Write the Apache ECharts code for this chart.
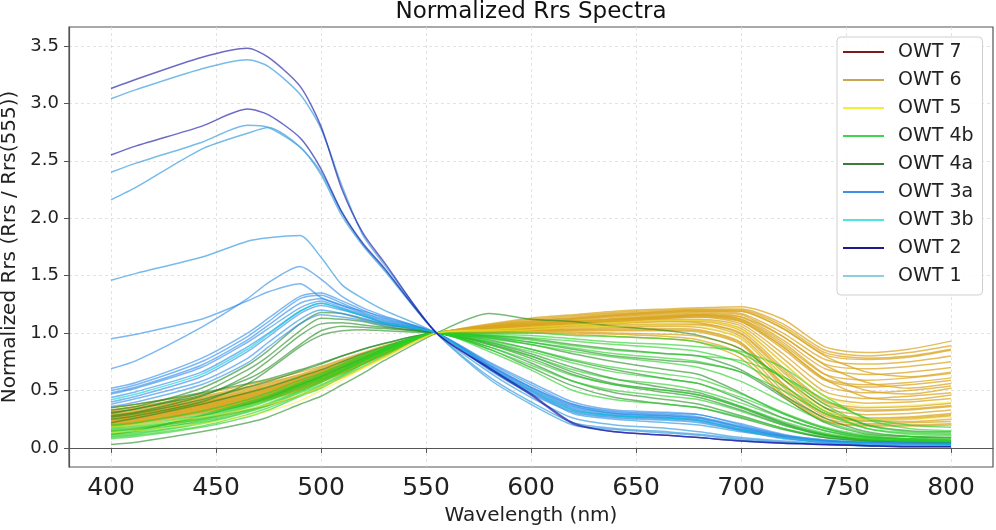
<!DOCTYPE html>
<html>
<head>
<meta charset="utf-8">
<script src="https://cdn.jsdelivr.net/npm/echarts@6/dist/echarts.min.js"></script>
<style>
  html, body { margin: 0; padding: 0; background: #fff; }
  #main { width: 996px; height: 530px; }
</style>
</head>
<body>
<div id="main"></div>
<script>
// wavelengths (nm) shared by every spectrum
var wl = [400, 412, 443, 465, 475, 490, 500, 510, 520, 530, 555, 580, 600, 620, 640, 665, 680, 700, 720, 740, 760, 780, 800];

var xTicks = [400, 450, 500, 550, 600, 650, 700, 750, 800];
var yTicks = [0, 0.5, 1, 1.5, 2, 2.5, 3, 3.5];

var legendNames = ['OWT 7', 'OWT 6', 'OWT 5', 'OWT 4b', 'OWT 4a', 'OWT 3a', 'OWT 3b', 'OWT 2', 'OWT 1'];
var legendColors = ['#7b1c1c', '#c9a650', '#f2ee3a', '#3fd34f', '#3d7a3d', '#3f8de8', '#4fe3e3', '#1a1a8a', '#8ccfdc'];

var owt7 = [];

var owt6 = [
    [0.35,0.38,0.47,0.55,0.59,0.66,0.71,0.77,0.83,0.89,1.0,1.08,1.13,1.16,1.19,1.21,1.22,1.23,1.12,0.88,0.83,0.86,0.93],
    [0.33,0.36,0.45,0.53,0.57,0.64,0.70,0.76,0.82,0.88,1.0,1.07,1.12,1.15,1.18,1.20,1.21,1.21,1.08,0.85,0.80,0.83,0.89],
    [0.31,0.34,0.43,0.51,0.55,0.62,0.68,0.74,0.80,0.87,1.0,1.07,1.11,1.14,1.17,1.19,1.20,1.19,1.04,0.81,0.77,0.79,0.85],
    [0.30,0.33,0.42,0.50,0.54,0.61,0.67,0.73,0.80,0.86,1.0,1.06,1.10,1.13,1.16,1.18,1.19,1.17,1.00,0.77,0.73,0.75,0.80],
    [0.28,0.31,0.40,0.48,0.52,0.60,0.66,0.72,0.79,0.86,1.0,1.06,1.09,1.12,1.15,1.17,1.18,1.16,0.97,0.73,0.69,0.71,0.75],
    [0.27,0.30,0.39,0.47,0.51,0.59,0.65,0.72,0.78,0.85,1.0,1.05,1.08,1.11,1.14,1.16,1.17,1.14,0.94,0.69,0.64,0.66,0.70],
    [0.26,0.29,0.38,0.46,0.50,0.58,0.64,0.71,0.78,0.85,1.0,1.05,1.08,1.10,1.13,1.15,1.16,1.12,0.90,0.64,0.59,0.61,0.65],
    [0.25,0.28,0.37,0.45,0.49,0.57,0.63,0.70,0.77,0.84,1.0,1.04,1.07,1.09,1.12,1.14,1.15,1.10,0.86,0.59,0.53,0.55,0.59],
    [0.24,0.27,0.36,0.44,0.48,0.56,0.62,0.69,0.76,0.84,1.0,1.04,1.06,1.08,1.11,1.13,1.14,1.08,0.82,0.54,0.48,0.50,0.54],
    [0.23,0.26,0.35,0.43,0.47,0.55,0.61,0.68,0.76,0.83,1.0,1.03,1.06,1.08,1.10,1.12,1.12,1.06,0.78,0.49,0.43,0.45,0.48],
    [0.22,0.25,0.34,0.42,0.46,0.54,0.60,0.68,0.75,0.83,1.0,1.03,1.05,1.07,1.09,1.11,1.11,1.04,0.74,0.45,0.39,0.40,0.43],
    [0.21,0.24,0.33,0.41,0.45,0.53,0.60,0.67,0.75,0.82,1.0,1.03,1.05,1.06,1.08,1.10,1.10,1.02,0.70,0.41,0.35,0.36,0.39],
    [0.20,0.23,0.32,0.40,0.44,0.52,0.59,0.66,0.74,0.82,1.0,1.02,1.04,1.05,1.07,1.08,1.08,0.99,0.66,0.38,0.32,0.33,0.36],
    [0.19,0.22,0.31,0.39,0.43,0.51,0.58,0.66,0.74,0.81,1.0,1.02,1.04,1.05,1.06,1.07,1.07,0.97,0.63,0.35,0.29,0.30,0.33],
    [0.18,0.21,0.30,0.38,0.42,0.50,0.57,0.65,0.73,0.81,1.0,1.02,1.03,1.04,1.05,1.06,1.05,0.95,0.60,0.32,0.26,0.27,0.30],
    [0.22,0.25,0.34,0.42,0.46,0.54,0.60,0.67,0.75,0.82,1.0,1.01,1.03,1.03,1.04,1.04,1.03,0.92,0.56,0.30,0.24,0.25,0.28],
    [0.20,0.23,0.32,0.40,0.44,0.52,0.59,0.66,0.74,0.82,1.0,1.01,1.02,1.02,1.02,1.02,1.01,0.90,0.53,0.28,0.23,0.23,0.25],
    [0.24,0.27,0.36,0.44,0.48,0.56,0.62,0.69,0.76,0.84,1.0,1.01,1.02,1.01,1.00,0.99,0.97,0.86,0.50,0.26,0.21,0.22,0.23],
    [0.21,0.24,0.33,0.41,0.45,0.53,0.60,0.67,0.75,0.82,1.0,1.00,1.01,1.00,0.99,0.97,0.94,0.82,0.47,0.24,0.20,0.20,0.21],
    [0.19,0.22,0.31,0.39,0.43,0.51,0.58,0.65,0.73,0.81,1.0,1.00,1.00,0.99,0.97,0.95,0.92,0.78,0.45,0.23,0.19,0.19,0.20],
    [0.27,0.30,0.39,0.47,0.51,0.59,0.65,0.71,0.78,0.85,1.0,1.04,1.07,1.10,1.12,1.15,1.16,1.14,0.97,0.72,0.57,0.52,0.56],
    [0.23,0.26,0.35,0.43,0.47,0.55,0.61,0.68,0.76,0.83,1.0,1.05,1.09,1.12,1.15,1.18,1.19,1.19,1.04,0.80,0.66,0.62,0.66],
    [0.15,0.17,0.25,0.33,0.37,0.46,0.53,0.61,0.70,0.79,1.0,1.03,1.05,1.08,1.10,1.13,1.14,1.10,0.88,0.60,0.44,0.42,0.46],
    [0.32,0.35,0.44,0.52,0.56,0.63,0.69,0.75,0.81,0.87,1.0,1.04,1.07,1.09,1.11,1.14,1.16,1.12,0.92,0.64,0.50,0.47,0.52],
    [0.29,0.32,0.41,0.49,0.53,0.61,0.67,0.73,0.79,0.86,1.0,1.06,1.10,1.13,1.16,1.19,1.20,1.20,1.06,0.83,0.78,0.80,0.86],
    [0.26,0.29,0.38,0.46,0.50,0.58,0.64,0.71,0.78,0.85,1.0,1.05,1.08,1.10,1.12,1.14,1.15,1.11,0.88,0.60,0.55,0.57,0.61],
    [0.28,0.31,0.40,0.48,0.52,0.60,0.66,0.72,0.79,0.86,1.0,1.03,1.05,1.07,1.09,1.10,1.09,1.00,0.68,0.40,0.33,0.34,0.37],
    [0.25,0.28,0.37,0.45,0.49,0.57,0.63,0.70,0.77,0.85,1.0,1.02,1.03,1.03,1.03,1.03,1.02,0.91,0.55,0.30,0.25,0.26,0.29]
];

var owt5 = [
    [0.18,0.20,0.27,0.34,0.38,0.46,0.53,0.61,0.70,0.79,1.0,1.03,1.05,1.07,1.09,1.11,1.11,1.03,0.74,0.45,0.36,0.37,0.40],
    [0.13,0.15,0.21,0.28,0.32,0.41,0.50,0.59,0.69,0.78,1.0,1.02,1.03,1.05,1.06,1.07,1.06,0.95,0.62,0.33,0.25,0.25,0.27]
];

var owt4a = [
    [0.33,0.36,0.52,0.72,0.85,1.08,1.18,1.17,1.12,1.08,1.0,0.96,0.90,0.82,0.75,0.68,0.64,0.48,0.30,0.17,0.10,0.08,0.07],
    [0.30,0.34,0.48,0.68,0.80,1.02,1.13,1.12,1.10,1.06,1.0,0.92,0.82,0.70,0.60,0.52,0.48,0.36,0.22,0.12,0.07,0.06,0.05],
    [0.28,0.31,0.45,0.63,0.76,0.98,1.08,1.09,1.07,1.05,1.0,0.88,0.74,0.58,0.48,0.42,0.38,0.28,0.17,0.09,0.06,0.05,0.05],
    [0.25,0.28,0.40,0.56,0.68,0.88,0.98,1.02,1.03,1.02,1.0,0.98,0.95,0.90,0.86,0.82,0.80,0.68,0.46,0.26,0.14,0.10,0.09],
    [0.03,0.05,0.14,0.22,0.27,0.38,0.45,0.55,0.65,0.76,1.0,1.17,1.12,1.10,1.06,1.02,0.98,0.86,0.60,0.35,0.20,0.15,0.14],
    [0.35,0.38,0.48,0.56,0.60,0.68,0.74,0.80,0.86,0.91,1.0,0.90,0.78,0.64,0.55,0.48,0.44,0.33,0.20,0.11,0.07,0.06,0.05],
    [0.22,0.26,0.38,0.48,0.53,0.62,0.68,0.75,0.82,0.88,1.0,0.94,0.86,0.76,0.68,0.60,0.56,0.42,0.26,0.15,0.09,0.07,0.06],
    [0.12,0.15,0.28,0.38,0.44,0.55,0.62,0.70,0.78,0.86,1.0,0.86,0.70,0.54,0.44,0.38,0.35,0.26,0.16,0.09,0.06,0.05,0.04],
    [0.27,0.30,0.42,0.53,0.58,0.67,0.73,0.80,0.86,0.91,1.0,0.97,0.92,0.86,0.80,0.76,0.74,0.66,0.44,0.22,0.12,0.10,0.09],
    [0.31,0.34,0.46,0.60,0.70,0.90,1.02,1.06,1.05,1.04,1.0,0.91,0.80,0.66,0.56,0.50,0.46,0.35,0.21,0.11,0.07,0.06,0.05]
];

var owt4b = [
    [0.10,0.12,0.21,0.31,0.37,0.48,0.55,0.64,0.73,0.82,1.0,1.00,1.00,0.98,0.97,0.95,0.92,0.82,0.62,0.38,0.20,0.14,0.13],
    [0.12,0.14,0.24,0.35,0.41,0.52,0.59,0.67,0.76,0.84,1.0,0.98,0.96,0.93,0.90,0.87,0.84,0.74,0.54,0.32,0.17,0.12,0.11],
    [0.15,0.17,0.27,0.38,0.44,0.55,0.62,0.70,0.78,0.86,1.0,0.95,0.90,0.84,0.79,0.74,0.70,0.58,0.40,0.23,0.13,0.10,0.09],
    [0.18,0.20,0.29,0.40,0.46,0.57,0.64,0.72,0.80,0.87,1.0,0.93,0.86,0.77,0.70,0.64,0.60,0.47,0.31,0.18,0.11,0.08,0.08],
    [0.08,0.10,0.18,0.27,0.33,0.45,0.52,0.62,0.71,0.80,1.0,0.90,0.80,0.68,0.60,0.55,0.50,0.39,0.26,0.15,0.09,0.07,0.06],
    [0.20,0.22,0.32,0.42,0.48,0.59,0.65,0.73,0.81,0.88,1.0,0.86,0.72,0.58,0.50,0.45,0.42,0.32,0.20,0.12,0.08,0.06,0.06],
    [0.14,0.16,0.25,0.36,0.42,0.53,0.60,0.68,0.77,0.85,1.0,0.84,0.68,0.50,0.42,0.38,0.35,0.27,0.17,0.10,0.07,0.06,0.05],
    [0.11,0.13,0.22,0.32,0.38,0.49,0.57,0.66,0.75,0.84,1.0,0.97,0.94,0.89,0.85,0.82,0.80,0.76,0.62,0.42,0.26,0.20,0.18],
    [0.16,0.18,0.26,0.37,0.43,0.54,0.61,0.69,0.77,0.85,1.0,0.99,0.98,0.95,0.92,0.90,0.88,0.84,0.70,0.45,0.25,0.17,0.15],
    [0.13,0.15,0.23,0.33,0.39,0.50,0.58,0.67,0.76,0.84,1.0,0.92,0.84,0.74,0.66,0.60,0.56,0.44,0.30,0.17,0.10,0.08,0.07],
    [0.09,0.11,0.19,0.29,0.35,0.46,0.54,0.63,0.73,0.82,1.0,0.96,0.92,0.87,0.82,0.78,0.75,0.66,0.50,0.30,0.17,0.13,0.12],
    [0.17,0.19,0.28,0.39,0.45,0.56,0.63,0.71,0.79,0.86,1.0,0.88,0.76,0.63,0.55,0.50,0.46,0.36,0.23,0.13,0.08,0.07,0.06]
];

var owt3a = [
    [0.95,0.99,1.12,1.28,1.36,1.43,1.31,1.24,1.19,1.14,1.0,0.72,0.52,0.36,0.30,0.28,0.26,0.18,0.10,0.06,0.04,0.03,0.03],
    [0.69,0.76,1.05,1.30,1.44,1.58,1.47,1.32,1.22,1.15,1.0,0.70,0.49,0.33,0.28,0.26,0.24,0.16,0.09,0.05,0.04,0.03,0.03],
    [0.52,0.57,0.78,1.00,1.13,1.32,1.35,1.28,1.20,1.13,1.0,0.68,0.47,0.31,0.26,0.24,0.22,0.15,0.08,0.05,0.03,0.03,0.02],
    [0.50,0.55,0.75,0.97,1.10,1.30,1.33,1.26,1.18,1.12,1.0,0.74,0.55,0.38,0.31,0.29,0.27,0.19,0.11,0.07,0.05,0.04,0.04],
    [0.47,0.52,0.70,0.92,1.04,1.22,1.28,1.22,1.16,1.10,1.0,0.71,0.51,0.35,0.29,0.27,0.25,0.17,0.10,0.06,0.04,0.03,0.03],
    [0.40,0.45,0.62,0.84,0.97,1.17,1.24,1.20,1.15,1.09,1.0,0.69,0.48,0.32,0.27,0.25,0.23,0.15,0.09,0.05,0.04,0.03,0.03],
    [0.38,0.43,0.58,0.78,0.92,1.12,1.20,1.17,1.13,1.08,1.0,0.73,0.53,0.37,0.30,0.28,0.26,0.18,0.10,0.06,0.04,0.04,0.03],
    [0.36,0.40,0.55,0.74,0.88,1.08,1.16,1.14,1.11,1.07,1.0,0.70,0.50,0.34,0.28,0.26,0.24,0.16,0.09,0.05,0.04,0.03,0.03],
    [0.44,0.49,0.66,0.88,1.00,1.19,1.26,1.21,1.15,1.09,1.0,0.75,0.57,0.40,0.33,0.31,0.29,0.21,0.12,0.07,0.05,0.04,0.04],
    [0.48,0.53,0.72,0.94,1.07,1.26,1.30,1.24,1.17,1.11,1.0,0.72,0.53,0.38,0.32,0.30,0.29,0.20,0.11,0.06,0.05,0.04,0.03]
];

var owt3b = [
    [0.42,0.47,0.64,0.86,0.99,1.19,1.26,1.21,1.15,1.09,1.0,0.70,0.50,0.33,0.28,0.26,0.24,0.16,0.09,0.05,0.04,0.03,0.03]
];

var owt2 = [
    [3.13,3.21,3.40,3.48,3.40,3.15,2.80,2.25,1.87,1.62,1.0,0.70,0.47,0.22,0.14,0.11,0.09,0.06,0.04,0.03,0.02,0.01,0.01],
    [2.55,2.63,2.80,2.95,2.90,2.70,2.43,2.05,1.78,1.57,1.0,0.69,0.46,0.21,0.14,0.11,0.09,0.06,0.04,0.03,0.02,0.01,0.01]
];

var owt1 = [
    [3.04,3.12,3.30,3.38,3.32,3.08,2.78,2.28,1.85,1.60,1.0,0.60,0.38,0.20,0.16,0.13,0.11,0.07,0.05,0.03,0.02,0.02,0.02],
    [2.40,2.48,2.66,2.81,2.79,2.62,2.40,2.05,1.77,1.56,1.0,0.62,0.40,0.22,0.17,0.14,0.12,0.08,0.05,0.03,0.02,0.02,0.02],
    [2.16,2.27,2.60,2.74,2.79,2.62,2.38,2.02,1.76,1.55,1.0,0.66,0.44,0.26,0.20,0.17,0.14,0.09,0.06,0.04,0.03,0.02,0.02],
    [1.46,1.52,1.66,1.80,1.83,1.85,1.66,1.42,1.30,1.20,1.0,0.70,0.50,0.30,0.25,0.22,0.20,0.14,0.09,0.05,0.03,0.03,0.02]
];

(function () {
    var mChart = echarts.init(document.getElementById('main'));
    var font = 'DejaVu Sans';

    // one line series per spectrum, all sharing the class name for the legend
    function spectra(name, rows, color, opacity) {
        var out = [];
        if (rows.length === 0) {
            out.push({name: name, type: 'line', data: [], showSymbol: false, lineStyle: {color: color}});
        }
        rows.forEach(function (r) {
            out.push({
                name: name,
                type: 'line',
                data: wl.map(function (x, i) { return [x, r[i]]; }),
                showSymbol: false,
                smooth: 0.25,
                silent: true,
                itemStyle: {color: color},
                lineStyle: {color: color, width: 1.5, opacity: opacity}
            });
        });
        return out;
    }

    var series = [].concat(
        spectra('OWT 7', owt7, '#8b1a1a', 0.7),
        spectra('OWT 6', owt6, '#daa520', 0.72),
        spectra('OWT 4a', owt4a, '#228b22', 0.6),
        spectra('OWT 4b', owt4b, '#26d126', 0.62),
        spectra('OWT 5', owt5, '#f4ee30', 0.5),
        spectra('OWT 3a', owt3a, '#2688e8', 0.6),
        spectra('OWT 3b', owt3b, '#00ced1', 0.6),
        spectra('OWT 1', owt1, '#4aa6e0', 0.75),
        spectra('OWT 2', owt2, '#1c1ca8', 0.65)
    );

    var option = {
        animation: false,
        backgroundColor: '#fff',
        title: {
            text: 'Normalized Rrs Spectra',
            left: 531,
            top: 0,
            padding: 0,
            textAlign: 'center',
            textStyle: {fontFamily: font, fontSize: 23, fontWeight: 'normal', color: '#111', lineHeight: 24}
        },
        grid: {
            left: 69, top: 27, right: 3, bottom: 63,
            show: true, borderColor: '#555', borderWidth: 1.2,
            outerBoundsMode: 'none'
        },
        legend: {
            orient: 'vertical',
            left: 837,
            top: 37,
            padding: [5, 9, 9, 6],
            itemGap: 8,
            itemWidth: 41,
            itemHeight: 2,
            icon: 'rect',
            borderColor: '#cfcfcf',
            borderWidth: 1,
            borderRadius: 4,
            backgroundColor: 'rgba(255,255,255,0.85)',
            textStyle: {fontFamily: font, fontSize: 19, lineHeight: 20, color: '#222', padding: [0, 0, 0, 9]},
            data: legendNames.map(function (n, i) {
                return {name: n, itemStyle: {color: legendColors[i], opacity: 1}};
            })
        },
        xAxis: {
            type: 'value',
            min: 380,
            max: 820,
            name: 'Wavelength (nm)',
            nameLocation: 'middle',
            nameGap: 39,
            nameTextStyle: {fontFamily: font, fontSize: 20, color: '#222'},
            axisLine: {show: true, lineStyle: {color: '#555', width: 1.2}},
            axisTick: {show: true, length: 5, customValues: xTicks, lineStyle: {color: '#555'}},
            axisLabel: {customValues: xTicks, margin: 9, fontFamily: font, fontSize: 25, color: '#222'},
            splitLine: {show: true, lineStyle: {color: '#dcdcdc', type: [3, 3], width: 0.8}}
        },
        yAxis: {
            type: 'value',
            min: -0.166,
            max: 3.665,
            name: 'Normalized Rrs (Rrs / Rrs(555))',
            nameLocation: 'middle',
            nameRotate: 90,
            nameGap: 47,
            nameTextStyle: {fontFamily: font, fontSize: 20, color: '#222'},
            axisLine: {show: true, lineStyle: {color: '#555', width: 1.2}},
            axisTick: {show: true, length: 5, customValues: yTicks, lineStyle: {color: '#555'}},
            axisLabel: {
                customValues: yTicks, margin: 10, fontFamily: font, fontSize: 18, color: '#222',
                formatter: function (v) { return v.toFixed(1); }
            },
            splitLine: {show: true, lineStyle: {color: '#dcdcdc', type: [3, 3], width: 0.8}}
        },
        series: series
    };
    mChart.setOption(option);
})();
</script>
</body>
</html>
